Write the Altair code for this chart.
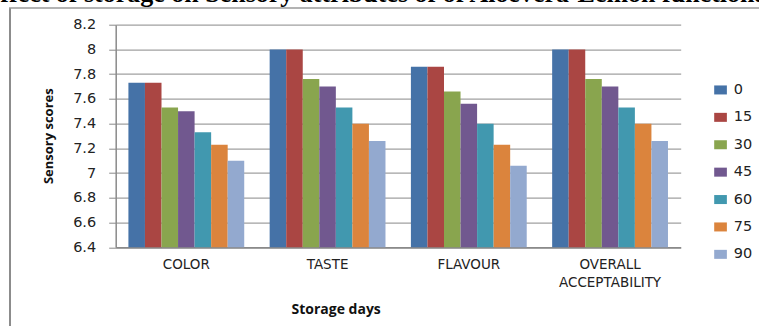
import altair as alt
import pandas as pd

# Sensory attributes and storage intervals (days)
attributes = ["COLOR", "TASTE", "FLAVOUR", "OVERALL ACCEPTABILITY"]
days = ["0", "15", "30", "45", "60", "75", "90"]

# Mean sensory scores per attribute, one value per storage day
color_scores = [7.73, 7.73, 7.53, 7.50, 7.33, 7.23, 7.10]
taste_scores = [8.00, 8.00, 7.76, 7.70, 7.53, 7.40, 7.26]
flavour_scores = [7.86, 7.86, 7.66, 7.56, 7.40, 7.23, 7.06]
overall_scores = [8.00, 8.00, 7.76, 7.70, 7.53, 7.40, 7.26]

palette = ["#4572A7", "#AA4643", "#89A54E", "#71588F", "#4198AF", "#DB843D", "#93A9CF"]

heading = "Effect of storage on Sensory attributes of  of Aloevera-Lemon functional RTS beverage"

rows = []
for attr, scores in zip(attributes, [color_scores, taste_scores, flavour_scores, overall_scores]):
    for d, s in zip(days, scores):
        rows.append({"attribute": attr, "day": d, "score": s})
df = pd.DataFrame(rows)

PLOT_W = 565
PLOT_H = 222.6
LEFT = 115.7
TOP = 24.7

bars = alt.Chart(df).mark_bar().encode(
    x=alt.X(
        "attribute:N",
        sort=attributes,
        scale=alt.Scale(paddingInner=0.18, paddingOuter=0.09),
        axis=alt.Axis(
            title="Storage days",
            labelAngle=0,
            labelExpr="split(datum.label, ' ')",
            labelFont="DejaVu Sans",
            labelFontSize=13.5,
            labelColor="#222222",
            labelPadding=10,
            labelLineHeight=18,
            ticks=False,
            domainColor="#8a8a8a",
            domainWidth=1.5,
            titleFont="Open Sans",
            titleFontWeight="bold",
            titleFontSize=14,
            titleColor="#111111",
            titleX=220,
            titleY=62,
            titleBaseline="middle",
            titleAlign="center",
        ),
    ),
    xOffset=alt.XOffset("day:N", sort=days, scale=alt.Scale(paddingInner=0, paddingOuter=0)),
    y=alt.Y(
        "score:Q",
        scale=alt.Scale(domain=[6.4, 8.2], zero=False, nice=False),
        axis=alt.Axis(
            title="Sensory scores",
            values=[6.4, 6.6, 6.8, 7.0, 7.2, 7.4, 7.6, 7.8, 8.0, 8.2],
            format=".1~f",
            labelFont="DejaVu Sans",
            labelFontSize=14.5,
            labelColor="#222222",
            labelPadding=13,
            tickSize=7,
            tickColor="#8a8a8a",
            domainColor="#8a8a8a",
            domainWidth=1.5,
            gridColor="#a0a0a0",
            gridWidth=1.2,
            titleFont="Open Sans",
            titleFontWeight="bold",
            titleFontSize=13,
            titleColor="#111111",
            titleX=-67,
            titleY=111,
            titleAngle=270,
            titleBaseline="middle",
            titleAlign="center",
        ),
    ),
    y2=alt.datum(6.4),
    color=alt.Color(
        "day:N",
        sort=days,
        scale=alt.Scale(domain=days, range=palette),
        legend=alt.Legend(
            title=None,
            orient="none",
            legendX=597.6,
            legendY=58,
            padding=0,
            symbolType="M-1,-0.71H1V0.71H-1Z",
            symbolSize=161,
            symbolStrokeWidth=0,
            symbolOpacity=1,
            labelFont="DejaVu Sans",
            labelFontSize=14.5,
            labelColor="#222222",
            labelOffset=6,
            rowPadding=12.4,
        ),
    ),
)

# Outer frame lines (left and top)
frame_df = pd.DataFrame({"k": [0]})
left_line = alt.Chart(frame_df).mark_rule(color="#8c8c8c", strokeWidth=2).encode(
    x=alt.value(10 - LEFT), y=alt.value(8 - TOP), y2=alt.value(340 - TOP)
)
top_line = alt.Chart(frame_df).mark_rule(color="#9a9a9a", strokeWidth=1.3).encode(
    x=alt.value(9 - LEFT), x2=alt.value(770 - LEFT), y=alt.value(8 - TOP)
)

head_df = pd.DataFrame({"t": [heading]})
head = alt.Chart(head_df).mark_text(
    font="Liberation Serif", fontWeight="bold", fontSize=26, align="left",
    baseline="alphabetic", color="#000000"
).encode(
    text="t:N", x=alt.value(-17 - LEFT), y=alt.value(2 - TOP)
)

chart = alt.layer(bars, left_line, top_line, head).properties(
    width=PLOT_W,
    height=PLOT_H,
    autosize=alt.AutoSizeParams(type="none"),
    padding={"left": LEFT, "top": TOP, "right": 78, "bottom": 78.7},
    background="#ffffff",
).configure_view(stroke=None)

chart.save("out.html", embed_options={"renderer": "svg", "actions": False})
